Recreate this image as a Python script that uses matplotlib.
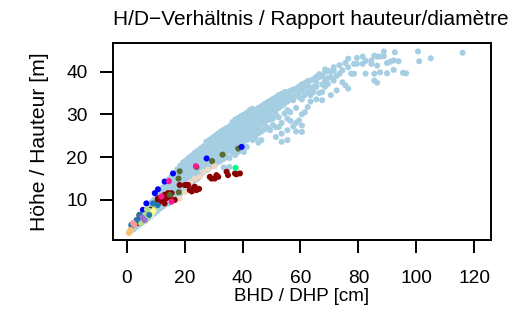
import matplotlib
matplotlib.use("Agg")
import matplotlib.pyplot as plt

plt.rcParams['font.family'] = ['Liberation Sans', 'DejaVu Sans']

# ---- light blue (dominant species) : columns of (dbh, [heights]) ----
lb_cols = [
    (1.5, [2.8, 3.5]), (2.5, [3.2, 4.0]), (3.5, [3.8, 4.6, 5.3]),
    (4.5, [4.3, 5.1, 5.9]), (5.5, [4.8, 5.7, 6.6]), (6.5, [5.3, 6.3, 7.3]),
    (7.5, [5.8, 6.9, 8.0, 8.8]), (8.5, [6.3, 7.4, 8.5, 9.5]),
    (9.5, [6.8, 7.9, 9.0, 10.1]), (10.5, [7.4, 8.5, 9.6, 10.7, 11.4]),
    (11.5, [8.0, 9.1, 10.2, 11.3, 12.2]), (12.5, [8.5, 9.6, 10.7, 11.8, 12.9]),
    (13.5, [9.0, 10.1, 11.2, 12.3, 13.4, 14.0]),
    (14.5, [9.2, 10.6, 11.7, 12.8, 13.9, 14.8]),
    (15.5, [10.0, 11.1, 12.2, 13.3, 14.4, 15.5]),
    (16.5, [10.5, 11.6, 12.7, 13.8, 14.9, 16.0]),
    (17.5, [11.0, 12.1, 13.2, 14.3, 15.4, 16.5, 17.2]),
    (18.5, [11.5, 12.6, 13.7, 14.8, 15.9, 17.0, 18.0]),
    (19.5, [12.5, 13.6, 14.7, 15.8, 16.9, 18.0, 18.8]),
    (20.5, [13.0, 14.1, 15.2, 16.3, 17.4, 18.5, 19.3]),
    (21.5, [13.6, 14.7, 15.8, 16.9, 18.0, 19.1, 19.9]),
    (22.5, [14.0, 15.2, 16.3, 17.4, 18.5, 19.6, 20.4]),
    (23.5, [14.6, 15.7, 16.8, 17.9, 19.0, 20.1, 21.0]),
    (24.5, [15.0, 16.2, 17.3, 18.4, 19.5, 20.6, 21.5]),
    (25.5, [16.0, 17.6, 18.8, 19.9, 21.0, 22.0]),
    (26.5, [16.5, 18.0, 19.2, 20.3, 21.4, 22.5]),
    (27.5, [17.0, 18.4, 19.6, 20.7, 21.8, 22.9, 23.6]),
    (28.5, [17.5, 18.8, 20.0, 21.1, 22.2, 23.3, 24.0]),
    (29.5, [18.0, 19.2, 20.4, 21.5, 22.6, 23.7, 24.5]),
    (30.5, [18.3, 19.6, 20.8, 21.9, 23.0, 24.1, 25.0]),
    (31.5, [18.8, 20.0, 21.2, 22.3, 23.4, 24.5, 25.5]),
    (32.5, [19.2, 20.4, 21.6, 22.7, 23.8, 24.9, 26.0]),
    (33.5, [17.6, 19.6, 20.8, 22.0, 23.1, 24.2, 25.3, 26.4]),
    (34.5, [20.0, 21.2, 22.4, 23.5, 24.6, 25.7, 26.8]),
    (35.5, [17.7, 19.8, 21.6, 22.8, 23.9, 25.0, 26.1, 27.2]),
    (36.5, [21.0, 22.0, 23.2, 24.3, 25.4, 26.5, 27.6, 28.2]),
    (37.5, [20.5, 22.4, 23.6, 24.7, 25.8, 26.9, 28.0, 28.8]),
    (38.5, [21.2, 22.8, 24.0, 25.1, 26.2, 27.3, 28.4, 29.2]),
    (39.5, [21.6, 23.2, 24.4, 25.5, 26.6, 27.7, 28.8, 29.6]),
    (40.5, [21.2, 23.6, 24.8, 25.9, 27.0, 28.1, 29.2, 30.0]),
    (41.5, [22.4, 24.0, 25.2, 26.3, 27.4, 28.5, 29.6, 30.4]),
    (42.5, [24.4, 25.6, 26.7, 27.8, 28.9, 30.0, 31.0]),
    (43.5, [24.0, 25.0, 26.1, 27.2, 28.3, 29.4, 30.5, 31.3]),
    (44.5, [24.6, 25.6, 26.6, 27.7, 28.8, 29.9, 31.0]),
    (45.5, [23.4, 25.6, 27.0, 28.2, 29.3, 30.4, 31.5]),
    (46.5, [24.0, 26.0, 27.6, 28.7, 29.8, 30.9, 31.9]),
    (47.5, [26.4, 28.0, 29.2, 30.3, 31.4, 32.4]),
    (48.5, [27.0, 28.6, 29.7, 30.8, 31.9, 32.8]),
    (49.5, [26.3, 28.8, 30.0, 31.2, 32.3, 33.2]),
    (50.5, [27.5, 29.0, 30.5, 31.6, 32.7, 33.6]),
    (51.5, [24.7, 27.0, 30.0, 31.0, 32.2, 33.2, 34.0]),
    (52.5, [27.0, 29.3, 31.5, 32.7, 33.7, 34.5]),
    (53.5, [23.6, 25.5, 28.0, 32.0, 33.2, 34.8]),
    (54.5, [30.2, 32.5, 33.8, 35.2]),
    (55.5, [24.0, 26.3, 29.0, 31.0, 33.0, 34.3, 35.2]),
    (56.5, [28.5, 30.5, 33.5, 34.8, 35.5]),
    (57.5, [27.2, 33.3, 34.2, 35.8]),
    (58.5, [26.0, 28.0, 31.5, 34.6, 36.0]),
    (59.5, [28.6, 34.0, 35.0, 36.5]),
    (60.5, [25.9, 27.4, 30.0, 33.5, 35.5, 37.0]),
    (61.5, [30.5, 34.5, 36.2, 37.3]),
    (62.5, [31.7, 35.0, 36.8, 37.8]),
    (63.5, [33.0, 34.5, 36.0, 37.9]),
    (64.5, [35.2, 36.4, 38.2]),
    (65.5, [33.5, 36.4, 37.5, 38.8]),
    (66.5, [35.0, 38.7, 39.4]),
    (67.5, [33.3, 35.2, 37.0, 39.0]),
    (68.5, [36.5, 38.0, 39.9, 40.5]),
    (69.5, [37.1, 38.5, 40.2]),
    (70.5, [34.5, 38.7, 40.0]),
    (71.5, [37.9, 40.2, 41.0]),
    (72.5, [35.6, 39.0]),
    (73.5, [39.5, 41.5]),
    (74.5, [37.5, 40.3]),
    (75.5, [36.8, 42.0]),
    (76.5, [36.0, 41.0, 43.0]),
    (77.5, [39.5]),
    (78.5, [39.5, 41.8]),
    (79.5, [41.8, 43.2]),
    (81.5, [41.8, 43.5]),
    (82.5, [39.5, 42.5]),
    (84.5, [41.8, 42.6]),
    (85.5, [37.9, 39.5, 43.7]),
    (86.5, [37.4, 41.4, 43.5]),
    (87.5, [39.8, 43.5]),
    (88.8, [43.6, 44.7]),
    (89.9, [39.6, 42.0]),
    (91.0, [42.3]),
    (92.2, [40.4, 42.6]),
    (92.6, [44.5]),
    (93.9, [42.4]),
    (95.4, [39.7]),
    (96.5, [39.6]),
    (100.6, [44.7]),
    (101.0, [42.4]),
    (105.0, [43.1]),
    (116.0, [44.4]),
]
lb_dbh = [c[0] for c in lb_cols for _ in c[1]]
lb_h = [h for c in lb_cols for h in c[1]]

# ---- other species ----
darkred_dbh = [29.3, 30.4, 31.6, 35.0, 34.5, 37.4, 39.1, 28.7, 31.0, 37.9,
               20.1, 21.2, 23.0, 24.1, 23.5, 21.8, 20.7, 18.3, 14.3, 13.1,
               12.0, 11.4, 10.8, 13.1, 8.5, 5.1, 3.9, 16.6, 15.5, 14.9,
               13.7, 12.6, 8.0, 6.8, 4.5, 3.4, 2.2, 4.4, 10.7, 25.0, 22.5]
darkred_h = [15.0, 15.0, 15.4, 15.8, 16.6, 16.2, 16.2, 15.4, 15.8, 16.0,
             13.5, 13.5, 12.7, 12.3, 13.1, 12.3, 13.5, 13.5, 11.6, 11.2,
             10.0, 9.6, 10.4, 9.2, 7.7, 5.7, 4.6, 10.0, 11.6, 10.8,
             10.4, 10.0, 7.7, 7.3, 6.1, 4.6, 4.2, 6.5, 10.0, 12.6, 12.0]

bisque_dbh = [28.1, 30.4, 25.3, 23.5, 18.3, 20.1, 13.1, 13.7, 26.5, 22.0]
bisque_h = [17.1, 17.9, 15.4, 15.0, 10.4, 11.9, 10.8, 10.0, 16.5, 14.2]

olive_dbh = [18.3, 24.1, 29.5, 33.1, 38.5, 18.0, 17.9, 14.9]
olive_h = [16.7, 17.7, 19.1, 20.6, 22.0, 11.8, 15.0, 11.2]

blue_dbh = [10.8, 9.7, 13.1, 16.0, 39.7, 27.6, 6.8, 5.6]
blue_h = [12.5, 11.6, 14.3, 16.2, 22.4, 19.7, 9.2, 7.7]

pink_dbh = [14.6, 23.9, 15.5, 12.0]
pink_h = [14.4, 17.9, 9.6, 10.8]

springgreen_dbh = [37.6]
springgreen_h = [17.5]

ltgreen_dbh = [4.9, 5.8, 6.6, 7.4, 8.0, 6.2, 7.0, 9.7]
ltgreen_h = [4.6, 5.6, 5.2, 6.4, 7.4, 6.5, 7.8, 8.1]

yellow_dbh = [8.5, 9.2]
yellow_h = [6.5, 7.4]

steel_dbh = [3.4, 4.5, 9.1, 1.6, 7.8, 10.7]
steel_h = [5.3, 6.5, 9.2, 4.2, 6.5, 8.8]

purple_dbh = [6.2, 5.4]
purple_h = [5.3, 5.9]

salmon_dbh = [2.7, 2.2]
salmon_h = [4.2, 4.6]

orange_dbh = [1.0, 1.4, 0.8]
orange_h = [2.6, 3.0, 2.3]

groups = [
    (lb_dbh, lb_h, '#A6CEE3'),
    (bisque_dbh, bisque_h, '#EED8C4'),
    (darkred_dbh, darkred_h, '#8B0000'),
    (olive_dbh, olive_h, '#556B2F'),
    (blue_dbh, blue_h, '#0000FF'),
    (pink_dbh, pink_h, '#FF1493'),
    (springgreen_dbh, springgreen_h, '#00FF7F'),
    (ltgreen_dbh, ltgreen_h, '#B2DF8A'),
    (yellow_dbh, yellow_h, '#FFFF99'),
    (steel_dbh, steel_h, '#1F78B4'),
    (purple_dbh, purple_h, '#9A6FD0'),
    (salmon_dbh, salmon_h, '#FB9A99'),
    (orange_dbh, orange_h, '#FDBF6F'),
]

fig = plt.figure(figsize=(5.27, 3.18), dpi=100)
ax = fig.add_axes([0.2144, 0.2453, 0.9311 - 0.2144, 0.8638 - 0.2453])

for xs, ys, col in groups:
    ax.scatter(xs, ys, s=19, c=col, edgecolors='none')

ax.set_xlim(-4.73, 125.7)
ax.set_ylim(0.65, 46.6)
ax.set_xticks([0, 20, 40, 60, 80, 100, 120])
ax.set_yticks([10, 20, 30, 40])
for sp in ax.spines.values():
    sp.set_linewidth(1.4)
ax.tick_params(axis='both', direction='out', length=9.5, width=1.4, labelsize=13.8)
ax.tick_params(axis='x', pad=12)
ax.tick_params(axis='y', pad=9)

ax.set_xlabel('BHD / DHP [cm]', fontsize=13.5, labelpad=1)
ax.set_ylabel('Höhe / Hauteur [m]', fontsize=15.2, labelpad=12)
fig.text(0.589, 0.94, 'H/D\u2212Verhältnis / Rapport hauteur/diamètre',
         fontsize=15, ha='center', va='center')

fig.savefig('out.png', dpi=100)
